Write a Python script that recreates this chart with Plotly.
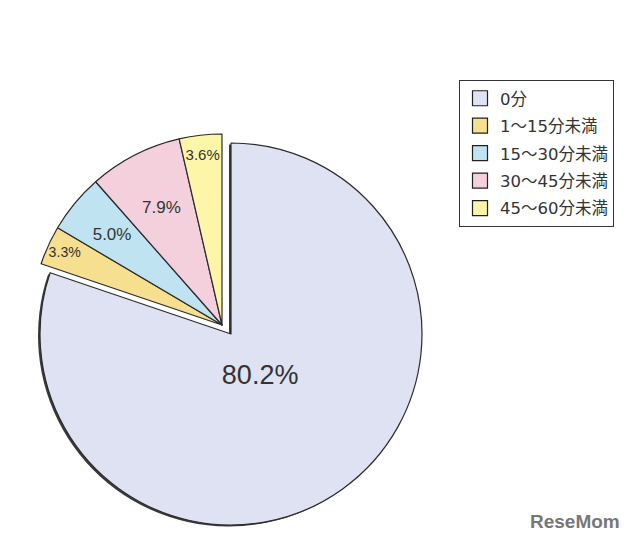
import plotly.graph_objects as go

# ---- data ----
categories = ["0分", "1〜15分未満", "15〜30分未満", "30〜45分未満", "45〜60分未満"]
values = [80.2, 3.3, 5.0, 7.9, 3.6]
colors = ["#dfe2f3", "#f6df8f", "#bfe3f1", "#f4cfdc", "#fdf6a9"]
label_sizes = [27, 17, 17, 17, 15]

# page has an 8px body margin -> figure coordinates are page coordinates - 8
W, H = 632, 536
R = 191                     # pie radius (px)
big_center = (223, 326)
small_center = (214, 317)
shadow_center = (221, 327.5)

def domain(cx, cy, r=R):
    return dict(x=[(cx - r) / W, (cx + r) / W],
                y=[1 - (cy + r) / H, 1 - (cy - r) / H])

TRANSP = "rgba(0,0,0,0)"
edge = "#2b2b2b"
n = len(values)
is_big = [i == 0 for i in range(n)]
FONT_NUM = "Liberation Sans, Arial, sans-serif"

common = dict(labels=categories, values=values, sort=False, direction="clockwise",
              rotation=0, showlegend=False, hoverinfo="skip",
              textposition="inside", insidetextorientation="horizontal")

def text_pie(center, r, show):
    return go.Pie(
        **common, domain=domain(*center, r=r),
        marker=dict(colors=[TRANSP] * n, line=dict(color=TRANSP, width=0)),
        texttemplate=["%{value:.1f}%" if s else "" for s in show],
        textfont=dict(family=FONT_NUM, size=label_sizes, color="#333333"),
    )

fig = go.Figure()

# soft shadow behind the main slice
fig.add_trace(go.Pie(
    **common, domain=domain(*shadow_center),
    marker=dict(colors=["#3a3a3a" if b else TRANSP for b in is_big],
                line=dict(color=TRANSP, width=0)),
    texttemplate=[""] * n,
))

# main slice (others invisible)
fig.add_trace(go.Pie(
    **common, domain=domain(*big_center),
    marker=dict(colors=[c if b else TRANSP for c, b in zip(colors, is_big)],
                line=dict(color=[edge if b else TRANSP for b in is_big], width=1.2)),
    texttemplate=[""] * n,
))

# pulled-out group of small slices (outer labels placed here)
fig.add_trace(go.Pie(
    **common, domain=domain(*small_center),
    marker=dict(colors=[TRANSP if b else c for c, b in zip(colors, is_big)],
                line=dict(color=[TRANSP if b else edge for b in is_big], width=1.2)),
    texttemplate=["%{value:.1f}%" if i in (1, n - 1) else "" for i in range(n)],
    textfont=dict(family=FONT_NUM, size=label_sizes, color="#333333"),
))

# text-only pies placing the other labels further inside
fig.add_trace(text_pie(big_center, 100, [i == 0 for i in range(n)]))
fig.add_trace(text_pie(small_center, 165, [i in (2, 3) for i in range(n)]))

# legend entries
for i, (cat, col) in enumerate(zip(categories, colors)):
    fig.add_trace(go.Scatter(
        x=[None], y=[None], mode="markers", name=cat, legendgroup=f"g{i}",
        marker=dict(symbol="square", size=15, color=col, line=dict(color="#222", width=1.2)),
        showlegend=True, hoverinfo="skip",
    ))

fig.add_annotation(
    x=567 / W, y=1 - 513 / H, xref="paper", yref="paper", showarrow=False,
    xanchor="center", yanchor="middle",
    text="<b>ReseMom</b>",
    font=dict(family="Liberation Sans, Arial, sans-serif", size=19, color="#777777"),
)

fig.update_layout(
    width=W, height=H,
    margin=dict(l=0, r=0, t=0, b=0),
    paper_bgcolor="white", plot_bgcolor="white",
    xaxis=dict(visible=False), yaxis=dict(visible=False),
    legend=dict(
        x=451 / W, y=1 - 72 / H, xanchor="left", yanchor="top",
        bordercolor="#333", borderwidth=1, bgcolor="white",
        font=dict(family="DejaVu Sans, Noto Sans CJK JP, sans-serif", size=16.5, color="#333"),
        tracegroupgap=3, traceorder="grouped",
    ),
)

fig.write_html("out.html")
